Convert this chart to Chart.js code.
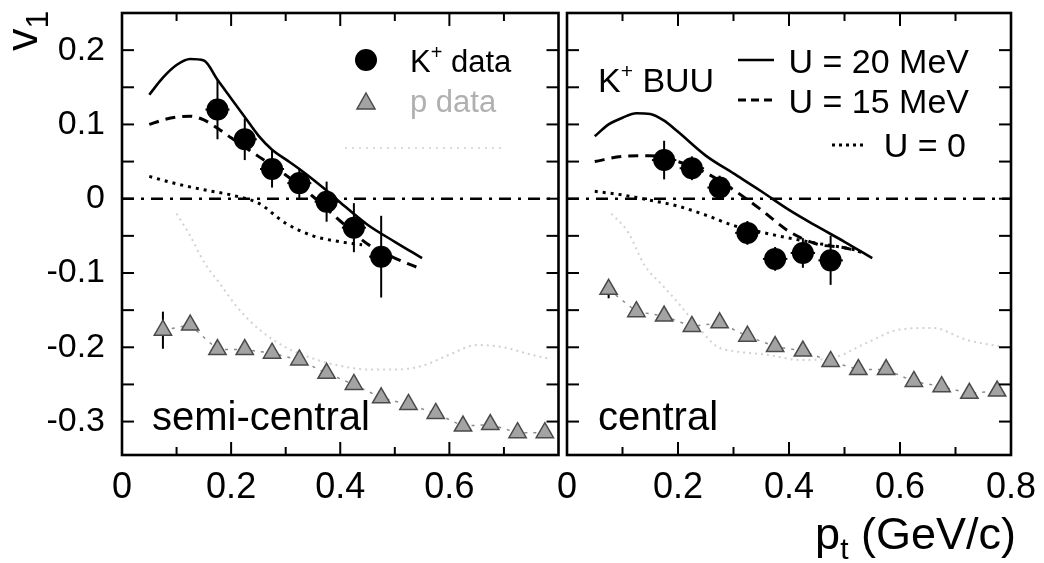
<!DOCTYPE html>
<html><head><meta charset="utf-8">
<script src="https://cdn.jsdelivr.net/npm/chart.js@4.4.1/dist/chart.umd.min.js"></script>
<style>
html,body{margin:0;padding:0;background:#fff;}
#wrap{position:relative;width:1044px;height:563px;overflow:hidden;background:#fff;}
#c1{position:absolute;left:0;top:0;}
#c2{position:absolute;left:540px;top:0;}
</style></head><body>
<div id="wrap">
<canvas id="c1" width="570" height="563"></canvas>
<canvas id="c2" width="504" height="563"></canvas>
</div>
<script>
// ---------- data ----------
const xTicksLeft = [0, 0.2, 0.4, 0.6];
const xTicksRight = [0, 0.2, 0.4, 0.6, 0.8];
const xTickLabelsLeft = ['0', '0.2', '0.4', '0.6'];
const xTickLabelsRight = ['0', '0.2', '0.4', '0.6', '0.8'];
const xMinorTicks = [0.1, 0.2, 0.3, 0.4, 0.5, 0.6, 0.7];
const xMajorTicks = [0.2, 0.4, 0.6];
const yTicks = [-0.3, -0.2, -0.1, 0, 0.1, 0.2];
const yTickLabels = ['-0.3', '-0.2', '-0.1', '0', '0.1', '0.2'];
const yMinorTicks = [-0.3, -0.25, -0.2, -0.15, -0.1, -0.05, 0, 0.05, 0.1, 0.15, 0.2];

// K+ data
const kX = [0.175, 0.225, 0.275, 0.325, 0.375, 0.425, 0.475];
const kXErr = 0.022;
const kSemiY = [0.120, 0.080, 0.040, 0.021, -0.004, -0.039, -0.078];
const kSemiErr = [0.040, 0.028, 0.025, 0.020, 0.027, 0.033, 0.055];
const kCentY = [0.052, 0.041, 0.015, -0.046, -0.081, -0.073, -0.083];
const kCentErr = [0.026, 0.016, 0.016, 0.016, 0.016, 0.020, 0.033];

// proton data
const pX = [0.075, 0.125, 0.175, 0.225, 0.275, 0.325, 0.375, 0.425, 0.475, 0.525, 0.575, 0.625, 0.675, 0.725, 0.775];
const pSemiY = [-0.177, -0.170, -0.203, -0.203, -0.208, -0.217, -0.235, -0.250, -0.268, -0.277, -0.289, -0.306, -0.304, -0.315, -0.315];
const pSemiErr = [0.025, 0, 0, 0, 0, 0, 0, 0, 0, 0, 0, 0, 0, 0, 0];
const pCentY = [-0.122, -0.152, -0.158, -0.172, -0.167, -0.185, -0.199, -0.205, -0.219, -0.230, -0.230, -0.246, -0.253, -0.262, -0.259];
const pCentErr = [0.012, 0, 0, 0, 0, 0, 0, 0, 0, 0, 0, 0, 0, 0, 0];

// BUU curves, semi-central
const u20SemiX = [0.05, 0.075, 0.1, 0.125, 0.15, 0.175, 0.2, 0.225, 0.25, 0.275, 0.3, 0.325, 0.35, 0.375, 0.4, 0.45, 0.5, 0.55];
const u20SemiY = [0.140, 0.163, 0.180, 0.188, 0.186, 0.160, 0.135, 0.110, 0.085, 0.066, 0.053, 0.040, 0.026, 0.011, -0.005, -0.035, -0.058, -0.080];
const u15SemiX = [0.05, 0.075, 0.1, 0.125, 0.15, 0.175, 0.2, 0.25, 0.3, 0.35, 0.4, 0.45, 0.5, 0.55];
const u15SemiY = [0.100, 0.106, 0.110, 0.111, 0.106, 0.095, 0.082, 0.057, 0.032, 0.003, -0.030, -0.061, -0.080, -0.095];
const u0SemiX = [0.05, 0.1, 0.15, 0.2, 0.25, 0.3, 0.35, 0.4, 0.44];
const u0SemiY = [0.030, 0.020, 0.012, 0.005, -0.006, -0.033, -0.050, -0.058, -0.062];
// BUU curves, central
const u20CentX = [0.05, 0.075, 0.1, 0.125, 0.15, 0.175, 0.2, 0.25, 0.3, 0.35, 0.4, 0.45, 0.5, 0.55];
const u20CentY = [0.084, 0.100, 0.109, 0.115, 0.114, 0.105, 0.090, 0.058, 0.034, 0.010, -0.015, -0.037, -0.058, -0.080];
const u15CentX = [0.05, 0.1, 0.15, 0.2, 0.25, 0.3, 0.35, 0.4, 0.45, 0.5, 0.53];
const u15CentY = [0.050, 0.057, 0.058, 0.050, 0.035, 0.012, -0.015, -0.044, -0.061, -0.066, -0.072];
const u0CentX = [0.05, 0.1, 0.15, 0.2, 0.25, 0.3, 0.35, 0.4, 0.45, 0.5, 0.52];
const u0CentY = [0.010, 0.005, -0.002, -0.010, -0.022, -0.036, -0.045, -0.053, -0.060, -0.066, -0.069];
// faint proton BUU curves
const pBuuSemiX = [0.1, 0.125, 0.15, 0.18, 0.21, 0.25, 0.3, 0.35, 0.4, 0.45, 0.5, 0.55, 0.6, 0.65, 0.7, 0.75, 0.78];
const pBuuSemiY = [-0.02, -0.05, -0.085, -0.115, -0.145, -0.175, -0.2, -0.215, -0.225, -0.23, -0.23, -0.225, -0.21, -0.197, -0.2, -0.21, -0.215];
const pBuuCentX = [0.08, 0.11, 0.14, 0.17, 0.2, 0.24, 0.27, 0.3, 0.36, 0.42, 0.48, 0.54, 0.6, 0.66, 0.72, 0.78];
const pBuuCentY = [-0.02, -0.045, -0.09, -0.115, -0.14, -0.176, -0.199, -0.205, -0.21, -0.217, -0.214, -0.194, -0.176, -0.174, -0.19, -0.199];
// reference line
const zeroX = [0, 0.8];
const zeroY = [0, 0];

// ---------- helpers ----------
const FONT = "'Liberation Sans', Arial, Helvetica, sans-serif";
const pts = (xs, ys) => xs.map((x, i) => ({ x, y: ys[i] }));

function drawRich(ctx, parts, x, y, align) {
  let w = 0;
  parts.forEach(p => { ctx.font = p.size + 'px ' + FONT; w += ctx.measureText(p.t).width; });
  let cx = align === 'right' ? x - w : x;
  ctx.textAlign = 'left'; ctx.textBaseline = 'alphabetic';
  parts.forEach(p => {
    ctx.font = p.size + 'px ' + FONT;
    ctx.fillStyle = p.color || '#000';
    ctx.fillText(p.t, cx, y + (p.dy || 0));
    cx += ctx.measureText(p.t).width;
  });
}
function seg(ctx, x1, y1, x2, y2) { ctx.beginPath(); ctx.moveTo(x1, y1); ctx.lineTo(x2, y2); ctx.stroke(); }

function datasets(k, kErr, p, pErr, u20x, u20y, u15x, u15y, u0x, u0y, pbx, pby) {
  const smooth = { cubicInterpolationMode: 'monotone' };
  return [
    { data: pts(kX, k), errY: kErr, errX: kXErr, showLine: false, pointRadius: 11, pointStyle: 'circle',
      backgroundColor: '#000', borderColor: '#000', pointBorderWidth: 0 },
    { data: pts(pX, p), errY: pErr, showLine: true, pointRadius: 10, pointStyle: 'triangle',
      backgroundColor: '#a3a3a3', pointBackgroundColor: '#a3a3a3', pointBorderColor: '#4a4a4a', pointBorderWidth: 1.5,
      borderColor: '#8a8a8a', borderWidth: 1.5, borderDash: [3, 6] },
    Object.assign({ data: pts(u20x, u20y), pointRadius: 0, borderColor: '#000', borderWidth: 2.6 }, smooth),
    Object.assign({ data: pts(u15x, u15y), pointRadius: 0, borderColor: '#000', borderWidth: 3, borderDash: [10, 7] }, smooth),
    Object.assign({ data: pts(u0x, u0y), pointRadius: 0, borderColor: '#000', borderWidth: 3, borderDash: [3, 5] }, smooth),
    { data: pts(zeroX, zeroY), pointRadius: 0, borderColor: '#000', borderWidth: 2.5, borderDash: [12, 7, 3, 7] },
    Object.assign({ data: pts(pbx, pby), pointRadius: 0, borderColor: '#d2d2d2', borderWidth: 2, borderDash: [2, 4] }, smooth)
  ];
}

function zeroPad(s) { s.paddingLeft = 0; s.paddingRight = 0; s.paddingTop = 0; s.paddingBottom = 0; }

function scales(showY, xt, xl) {
  return {
    x: {
      type: 'linear', min: 0, max: 0.8,
      grid: { display: false, drawTicks: false }, border: { display: false },
      ticks: { font: { family: FONT, size: 36 }, color: '#000', padding: 11, maxRotation: 0, autoSkip: false,
               callback: (v, i) => xl[i] },
      afterBuildTicks: s => { s.ticks = xt.map(v => ({ value: v })); },
      afterFit: s => { s.height = 108; zeroPad(s); }
    },
    y: {
      type: 'linear', min: -0.345, max: 0.25, display: showY,
      grid: { display: false, drawTicks: false }, border: { display: false },
      ticks: { font: { family: FONT, size: 34 }, color: '#000', padding: 17, autoSkip: false,
               callback: (v, i) => yTickLabels[i] },
      afterBuildTicks: s => { s.ticks = yTicks.map(v => ({ value: v })); },
      afterFit: s => { s.width = showY ? 122 : 0; zeroPad(s); }
    }
  };
}

const panelTexts = {};

const framePlugin = {
  id: 'frame',
  beforeDatasetsDraw(chart) {
    const { ctx, scales: { x, y } } = chart;
    ctx.save();
    ctx.strokeStyle = '#000'; ctx.lineWidth = 2;
    chart.data.datasets.forEach(ds => {
      if (!ds.errY) return;
      ds.data.forEach((d, i) => {
        const px = x.getPixelForValue(d.x);
        const e = ds.errY[i];
        if (e > 0) seg(ctx, px, y.getPixelForValue(d.y + e), px, y.getPixelForValue(d.y - e));
        if (ds.errX) {
          const py = y.getPixelForValue(d.y);
          seg(ctx, x.getPixelForValue(d.x - ds.errX), py, x.getPixelForValue(d.x + ds.errX), py);
        }
      });
    });
    ctx.restore();
  },
  afterDraw(chart) {
    const { ctx, chartArea: a, scales: { x, y } } = chart;
    ctx.save();
    ctx.strokeStyle = '#000';
    ctx.lineWidth = 2;
    xMinorTicks.forEach(v => {
      const px = x.getPixelForValue(v);
      const L = xMajorTicks.includes(v) ? 13 : 8;
      seg(ctx, px, a.bottom, px, a.bottom - L);
      seg(ctx, px, a.top, px, a.top + L);
    });
    yMinorTicks.forEach(v => {
      const py = y.getPixelForValue(v);
      seg(ctx, a.left, py, a.left + 12, py);
      seg(ctx, a.right, py, a.right - 12, py);
    });
    ctx.lineWidth = 2.6;
    ctx.strokeRect(a.left, a.top, a.right - a.left, a.bottom - a.top);
    const f = panelTexts[chart.canvas.id];
    if (f) f(ctx);
    ctx.restore();
  }
};
Chart.register(framePlugin);

function baseOpts(showY, xt, xl, pad) {
  return {
    responsive: false, animation: false,
    layout: { padding: pad },
    plugins: { legend: { display: false }, tooltip: { enabled: false } },
    scales: scales(showY, xt, xl)
  };
}

// ---------- texts ----------
panelTexts.c1 = ctx => {
  // y-axis title v_1 (rotated)
  ctx.save();
  ctx.translate(37, 51);
  ctx.rotate(-Math.PI / 2);
  drawRich(ctx, [{ t: 'v', size: 45 }, { t: '1', size: 32, dy: 11 }], 0, 0, 'left');
  ctx.restore();
  // legend: K+ data
  ctx.fillStyle = '#000';
  ctx.beginPath(); ctx.arc(366, 60, 11, 0, Math.PI * 2); ctx.fill();
  drawRich(ctx, [{ t: 'K', size: 31 }, { t: '+', size: 20, dy: -13 }, { t: ' data', size: 31 }], 410, 72, 'left');
  // legend: p data
  ctx.fillStyle = '#a3a3a3'; ctx.strokeStyle = '#4a4a4a'; ctx.lineWidth = 1.5;
  ctx.beginPath(); ctx.moveTo(366, 93); ctx.lineTo(375, 109); ctx.lineTo(357, 109); ctx.closePath(); ctx.fill(); ctx.stroke();
  drawRich(ctx, [{ t: 'p data', size: 31, color: '#b0b0b0' }], 410, 112, 'left');
  // faint legend line
  ctx.strokeStyle = '#dcdcdc'; ctx.lineWidth = 2; ctx.setLineDash([2, 5]);
  seg(ctx, 345, 148, 505, 148);
  ctx.setLineDash([]);
  drawRich(ctx, [{ t: 'semi-central', size: 40 }], 152, 430, 'left');
};
const OFF = 540;
panelTexts.c2 = ctx => {
  drawRich(ctx, [{ t: 'K', size: 34 }, { t: '+', size: 21, dy: -14 }, { t: ' BUU', size: 34 }], 598 - OFF, 92, 'left');
  ctx.strokeStyle = '#000'; ctx.lineWidth = 2.6;
  seg(ctx, 738 - OFF, 60, 774 - OFF, 60);
  drawRich(ctx, [{ t: 'U = 20 MeV', size: 34 }], 969 - OFF, 73, 'right');
  ctx.lineWidth = 3; ctx.setLineDash([8, 5]);
  seg(ctx, 738 - OFF, 100, 774 - OFF, 100);
  drawRich(ctx, [{ t: 'U = 15 MeV', size: 34 }], 969 - OFF, 113, 'right');
  ctx.setLineDash([3, 4]);
  seg(ctx, 832 - OFF, 145, 866 - OFF, 145);
  ctx.setLineDash([]);
  drawRich(ctx, [{ t: 'U = 0', size: 34 }], 966 - OFF, 157, 'right');
  drawRich(ctx, [{ t: 'central', size: 40 }], 598 - OFF, 430, 'left');
  // x-axis title p_t (GeV/c)
  drawRich(ctx, [{ t: 'p', size: 45 }, { t: 't', size: 30, dy: 10 }, { t: ' (GeV/c)', size: 45 }], 1016 - OFF, 549, 'right');
};

// ---------- left panel: semi-central ----------
new Chart(document.getElementById('c1'), {
  type: 'line',
  data: { datasets: datasets(kSemiY, kSemiErr, pSemiY, pSemiErr, u20SemiX, u20SemiY, u15SemiX, u15SemiY, u0SemiX, u0SemiY, pBuuSemiX, pBuuSemiY) },
  options: baseOpts(true, xTicksLeft, xTickLabelsLeft, { left: 0, right: 3, top: 13, bottom: 0 })
});

// ---------- right panel: central ----------
new Chart(document.getElementById('c2'), {
  type: 'line',
  data: { datasets: datasets(kCentY, kCentErr, pCentY, pCentErr, u20CentX, u20CentY, u15CentX, u15CentY, u0CentX, u0CentY, pBuuCentX, pBuuCentY) },
  options: baseOpts(false, xTicksRight, xTickLabelsRight, { left: 27, right: 33, top: 13, bottom: 0 })
});
</script>
</body></html>
